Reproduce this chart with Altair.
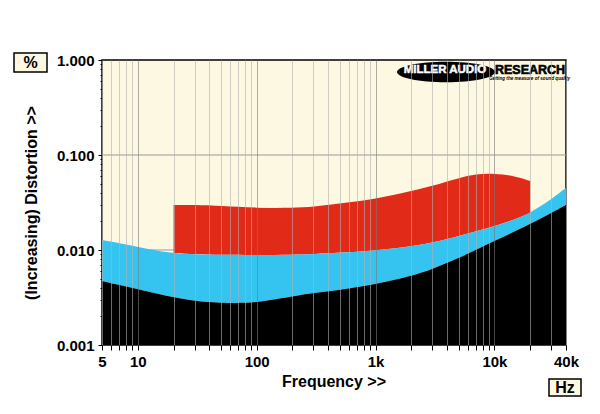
import altair as alt
import pandas as pd

# ---- data ----
freq = [5, 7, 10, 15, 20, 30, 50, 80, 100, 150, 200, 300, 500, 700, 1000,
        2000, 3000, 5000, 7000, 10000, 15000, 20000, 30000, 40000]
black_top = [0.00472, 0.00428, 0.00388, 0.00344, 0.00318, 0.00290, 0.00277, 0.00277,
             0.00282, 0.00305, 0.00325, 0.00352, 0.00380, 0.00408, 0.00439, 0.00532,
             0.0063, 0.00824, 0.0100, 0.01245, 0.0158, 0.0188, 0.0245, 0.0298]
cyan_top = [0.01274, 0.01185, 0.01076, 0.00976, 0.00929, 0.00897, 0.00888, 0.00888,
            0.00888, 0.00888, 0.00890, 0.00905, 0.00935, 0.00960, 0.00988, 0.01090,
            0.01190, 0.0140, 0.0157, 0.0178, 0.0210, 0.0245, 0.0340, 0.045]

red_freq = [20, 30, 50, 100, 200, 300, 500, 1000, 2000, 3000, 5000, 7000, 10000, 15000, 20000]
red_low = [0.00929, 0.00897, 0.00888, 0.00888, 0.00890, 0.00905, 0.00935, 0.00988,
           0.01090, 0.01190, 0.0140, 0.0157, 0.0178, 0.0210, 0.0245]
red_high = [0.0298, 0.0298, 0.0291, 0.0277, 0.0277, 0.0284, 0.0309, 0.0344,
            0.0418, 0.0472, 0.0573, 0.0631, 0.0639, 0.0601, 0.0532]

grid_y = [0.1, 0.01]

x_ticks = [m * 10 ** e for e in range(0, 5) for m in range(1, 10) if 5 <= m * 10 ** e <= 40000]
y_ticks = [m * 10.0 ** e for e in (-3, -2, -1) for m in range(1, 10)] + [1.0]
y_ticks = [round(v, 6) for v in y_ticks]

CREAM = "#FCF8E2"
FONT = "Liberation Sans"

df = pd.DataFrame({"f": freq, "black": black_top, "cyan": cyan_top})
dred = pd.DataFrame({"f": red_freq, "lo": red_low, "hi": red_high})
dgrid = pd.DataFrame({"v": grid_y})

major_x = "indexof([10,100,1000,10000], datum.value) >= 0"
major_y = "indexof([0.001,0.01,0.1,1], datum.value) >= 0"

xaxis = alt.Axis(
    values=x_ticks,
    labelExpr=("datum.value==5?'5':datum.value==10?'10':datum.value==100?'100':"
               "datum.value==1000?'1k':datum.value==10000?'10k':datum.value==40000?'40k':''"),
    grid=True,
    gridColor={"condition": {"test": major_x, "value": "#7a7a7a"}, "value": "#b0b0b0"},
    gridOpacity=0.6,
    gridWidth=1,
    domain=False,
    tickColor="black",
    tickSize=5,
    labelFont=FONT, labelFontSize=15, labelFontWeight="bold", labelColor="black",
    labelPadding=4, labelOverlap=False, labelFlush=False, labelBound=False,
    title=None, zindex=1,
)
yaxis = alt.Axis(
    values=y_ticks,
    labelExpr=f"{major_y} ? format(datum.value, '.3f') : ''",
    grid=False,
    domain=False,
    tickColor="black",
    tickSize={"condition": {"test": major_y, "value": 4}, "value": 2},
    labelFont=FONT, labelFontSize=15, labelFontWeight="bold", labelColor="black",
    labelPadding=4, labelOverlap=False, labelFlush=False, labelBound=False,
    title=None,
)

xs = alt.Scale(type="log", domain=[5, 40000], nice=False)
ys = alt.Scale(type="log", domain=[0.001, 1], nice=False)

X = alt.X("f:Q", scale=xs, axis=xaxis)

grid = alt.Chart(dgrid).mark_rule(color="#999999", strokeWidth=1).encode(
    y=alt.Y("v:Q", scale=ys, axis=yaxis))

red = alt.Chart(dred).mark_area(color="#E22A18", interpolate="basis").encode(
    x=X, y=alt.Y("hi:Q", scale=ys, axis=yaxis), y2="lo:Q")

cyan = alt.Chart(df).mark_area(color="#35C4EF", interpolate="basis").encode(
    x=X, y=alt.Y("cyan:Q", scale=ys, axis=yaxis), y2="black:Q")

black = alt.Chart(df).mark_area(color="#000000", interpolate="basis").encode(
    x=X, y=alt.Y("black:Q", scale=ys, axis=yaxis), y2=alt.datum(0.001))

one = pd.DataFrame({"a": [0]})

def box(x1, x2, y1, y2):
    return alt.Chart(one).mark_rect(fill=CREAM, stroke="black", strokeWidth=1.5).encode(
        x=alt.value(x1), x2=alt.value(x2), y=alt.value(y1), y2=alt.value(y2))

def txt(s, x, y, size, color="black", angle=0, align="center", baseline="middle",
        style="normal", weight="bold", stroke=None, sw=0):
    kw = dict(font=FONT, fontSize=size, fontWeight=weight, color=color, angle=angle,
              align=align, baseline=baseline, fontStyle=style)
    if stroke:
        kw.update(stroke=stroke, strokeWidth=sw)
    return alt.Chart(pd.DataFrame({"t": [s]})).mark_text(**kw).encode(
        x=alt.value(x), y=alt.value(y), text="t:N")

pct_box = box(-88, -55, -7, 12)
pct = txt("%", -71.5, 3, 16)
hz_box = box(447, 479, 319, 336)
hz = txt("Hz", 463, 328, 16)
xtitle = txt("Frequency >>", 232, 327, 16, baseline="alphabetic")
ytitle = txt("(Increasing) Distortion >>", -70, 143, 16, angle=270)

ellipse = alt.Chart(one).mark_point(
    shape="M-1,0 A1,0.21 0 1,1 1,0 A1,0.21 0 1,1 -1,0 Z",
    filled=True, color="black", opacity=1, size=9600).encode(
    x=alt.value(344), y=alt.value(12))
logo1 = txt("MILLER AUDIO", 343, 10, 11.5, color="white", stroke="white", sw=0.5)
logo2 = txt("RESEARCH", 393, 10, 12.5, align="left", stroke="black", sw=0.6)
logo3 = txt("Getting the measure of sound quality", 387, 19, 4.6, align="left", style="italic")

chart = alt.layer(
    grid, red, cyan, black,
    pct_box, pct, hz_box, hz, xtitle, ytitle,
    ellipse, logo1, logo2, logo3,
).properties(
    width=464, height=285,
    autosize=alt.AutoSizeParams(type="none"),
    padding={"left": 94, "top": 52, "right": 26, "bottom": 61},
    background="white",
).configure_view(
    fill=CREAM, stroke="black", strokeWidth=1.5
)

chart.save("out.html", embed_options={"renderer": "svg", "actions": False})
